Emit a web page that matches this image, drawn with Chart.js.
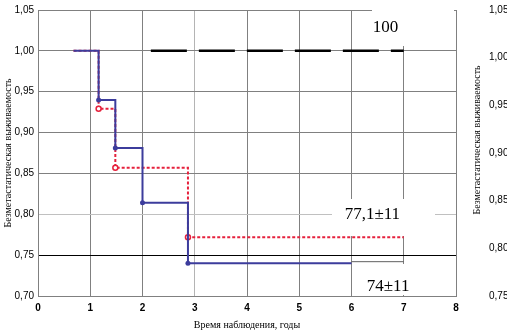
<!DOCTYPE html>
<html>
<head>
<meta charset="utf-8">
<script src="https://cdn.jsdelivr.net/npm/chart.js@4"></script>
<style>
  body { margin: 0; background: #fff; }
  #wrap { width: 507px; height: 331px; position: relative; }
</style>
</head>
<body>
<div id="wrap"><canvas id="km"></canvas></div>
<script>
// Kaplan-Meier steps (x = years, y = survival)
const blueX = [0.68, 1.16, 1.48, 2.0, 2.87, 6.0];
const blueY = [1.0, 0.94, 0.881, 0.814, 0.74, 0.74];
const redX = [0.68, 1.16, 1.48, 2.87, 7.0];
const redY = [1.0, 0.929, 0.857, 0.772, 0.772];
const blackX = [2.16, 7.0];
const blackY = [1.0, 1.0];
const bracketX = [6.0, 7.0];
const bracketY = [0.742, 0.742];

const xTickValues = [0, 1, 2, 3, 4, 5, 6, 7, 8];
const yTickValues = [0.70, 0.75, 0.80, 0.85, 0.90, 0.95, 1.00, 1.05];
const rightTickValues = [0.75, 0.80, 0.85, 0.90, 0.95, 1.00, 1.05];

const xTitle = 'Время наблюдения, годы';
const yTitle = 'Безметастатическая выживаемость';

// annotations: text, x, y (data units)
const noteText = ['100', '77,1±11', '74±11'];
const noteX = [6.65, 6.4, 6.7];
const noteY = [1.028, 0.8, 0.711];

const pts = (xs, ys) => xs.map((x, i) => ({x: x, y: ys[i]}));
const fmt = v => v.toFixed(2).replace('.', ',');
const innerPt = r => ctx => (ctx.dataIndex > 0 && ctx.dataIndex < ctx.dataset.data.length - 1) ? r : 0;

const notesPlugin = {
  id: 'notes',
  beforeDatasetsDraw(chart) {
    const c = chart.ctx;
    c.save();
    c.fillStyle = '#fff';
    // white boxes behind labels
    c.fillRect(372, 8, 82, 38);
    c.fillRect(332, 199, 103, 37);
    c.fillRect(356, 264, 74, 31);
    c.restore();
  },
  afterDatasetsDraw(chart) {
    const c = chart.ctx, xs = chart.scales.x, ys = chart.scales.y;
    c.save();
    c.fillStyle = '#000';
    c.font = '17px "Liberation Serif"';
    c.textAlign = 'center';
    c.textBaseline = 'middle';
    noteText.forEach((t, i) => {
      c.fillText(t, xs.getPixelForValue(noteX[i]), ys.getPixelForValue(noteY[i]));
    });
    // title of the neighbouring (cropped) panel on the right
    c.translate(477, 140);
    c.rotate(-Math.PI / 2);
    c.font = '10px "Liberation Serif"';
    c.fillText(yTitle, 0, 0);
    c.restore();
  }
};

new Chart(document.getElementById('km'), {
  type: 'line',
  data: {
    datasets: [
      {
        data: pts(blueX, blueY),
        borderColor: '#3c3c9c',
        backgroundColor: '#3c3c9c',
        borderWidth: 2,
        stepped: true,
        pointRadius: innerPt(2.5),
        pointBorderWidth: 0,
        fill: false
      },
      {
        data: pts(redX, redY),
        borderColor: '#e5213c',
        backgroundColor: '#ffffff',
        borderWidth: 2,
        borderDash: [3, 2],
        stepped: true,
        pointRadius: innerPt(2.5),
        pointBorderColor: '#e5213c',
        pointBorderWidth: 1.5,
        fill: false
      },
      {
        data: pts(blackX, blackY),
        borderColor: '#000',
        borderWidth: 2.5,
        borderDash: [36, 12],
        pointRadius: 0,
        fill: false
      },
      {
        data: pts(bracketX, bracketY),
        borderColor: '#606060',
        borderWidth: 1,
        pointRadius: 0,
        fill: false
      }
    ]
  },
  options: {
    responsive: true,
    maintainAspectRatio: false,
    animation: false,
    layout: { padding: { top: 0, left: 0, right: 0, bottom: 0 } },
    plugins: { legend: { display: false }, tooltip: { enabled: false } },
    scales: {
      x: {
        type: 'linear',
        min: 0, max: 8,
        afterBuildTicks: s => { s.ticks = xTickValues.map(v => ({value: v})); },
        afterFit: s => { s.height = 35; },
        grid: {
          color: ctx => ctx.tick && ctx.tick.value === 3 ? '#b4b4b4' : '#808080',
          drawTicks: false
        },
        border: { color: '#808080' },
        ticks: { color: '#000', padding: 6, font: { family: 'Liberation Sans', size: 10, weight: 'bold' } },
        title: { display: true, text: xTitle, color: '#000', padding: { top: 0, bottom: 0 }, font: { family: 'Liberation Serif', size: 10 } }
      },
      y: {
        min: 0.70, max: 1.05,
        afterBuildTicks: s => { s.ticks = yTickValues.map(v => ({value: v})); },
        afterFit: s => { s.width = 38; },
        grid: {
          color: ctx => {
            if (!ctx.tick) return '#808080';
            const v = Math.round(ctx.tick.value * 100);
            if (v === 75) return '#000';
            if (v === 80) return '#c0c0c0';
            return '#808080';
          },
          drawTicks: false
        },
        border: { color: '#808080' },
        ticks: { color: '#000', padding: 4, autoSkip: false, callback: v => fmt(v), font: { family: 'Liberation Sans', size: 10 } },
        title: { display: true, text: yTitle, color: '#000', padding: { top: 2, bottom: 0 }, font: { family: 'Liberation Serif', size: 10 } }
      },
      y2: {
        position: 'right',
        min: 0.75, max: 1.05,
        afterBuildTicks: s => { s.ticks = rightTickValues.map(v => ({value: v})); },
        afterFit: s => { s.width = 51; },
        grid: { display: true, drawOnChartArea: false, drawTicks: true, tickLength: 30, color: 'rgba(0,0,0,0)' },
        border: { display: false },
        ticks: { color: '#000', padding: 3, autoSkip: false, callback: v => fmt(v), font: { family: 'Liberation Sans', size: 10 } }
      }
    }
  },
  plugins: [notesPlugin]
});
</script>
</body>
</html>
